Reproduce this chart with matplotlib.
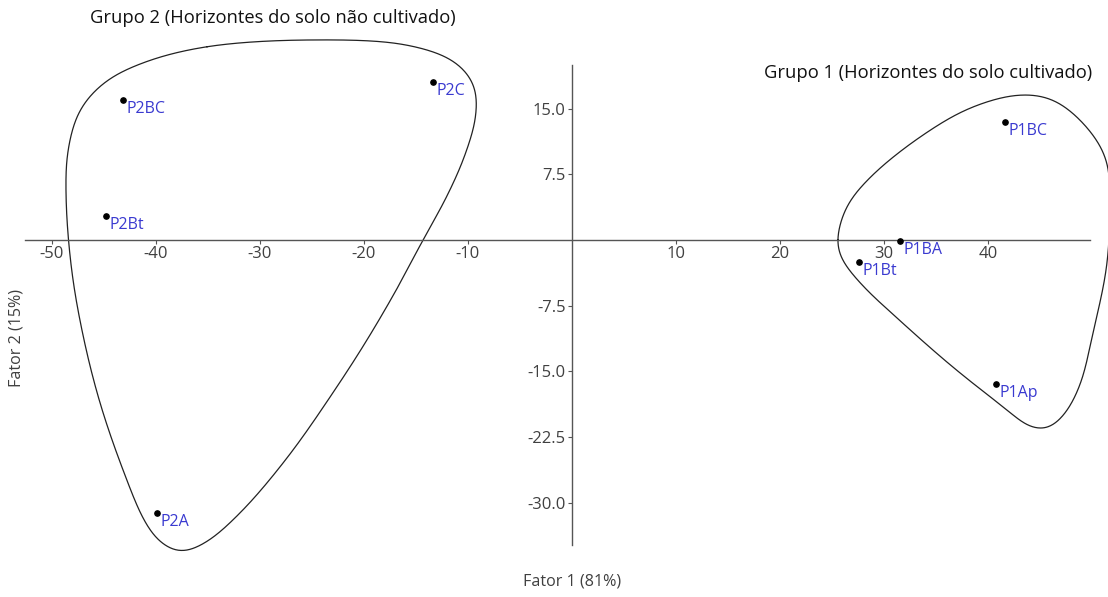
import numpy as np
import matplotlib
matplotlib.use("Agg")
import matplotlib.pyplot as plt

plt.rcParams['font.family'] = ['Open Sans', 'DejaVu Sans']

# ---- data ----
labels = ["P2BC", "P2C", "P2Bt", "P2A", "P1BC", "P1BA", "P1Bt", "P1Ap"]
fator1 = [-43.2, -13.4, -44.8, -39.9, 41.6, 31.5, 27.6, 40.8]
fator2 = [16.0, 18.1, 2.8, -31.2, 13.5, -0.1, -2.5, -16.4]

xticks = [-50, -40, -30, -20, -10, 10, 20, 30, 40]
yticks = [15.0, 7.5, -7.5, -15.0, -22.5, -30.0]

# group outlines (hand-drawn enclosures, in data units)
grupo2_x = [-35.13, -25.51, -15.89, -11.25, -9.42, -9.23, -10.29, -12.05, -14.33, -16.63,
            -19.52, -22.6, -27.31, -31.92, -35.29, -37.69, -39.62, -41.06, -43.17,
            -45.38, -46.99, -48.11, -48.65, -48.46, -47.31, -44.90, -41.06]
grupo2_y = [22.09, 22.86, 22.29, 20.34, 17.71, 14.29, 9.71, 4.95, 0.0, -5.14,
            -11.05, -16.77, -24.77, -31.2, -34.63, -35.66, -34.51, -32.23, -26.29,
            -18.63, -11.05, -3.43, 4.91, 10.29, 14.86, 18.06, 20.34]
grupo1_x = [25.5, 26.4, 28.7, 33.5, 38.3, 43.1, 46.3, 49.5, 51.4, 51.7,
            51.4, 50.1, 48.85, 47.31, 45.67, 44.04, 41.44, 36.6, 31.8, 27.7, 25.8]
grupo1_y = [0.0, 3.8, 7.2, 11.8, 15.1, 16.6, 16.0, 12.9, 9.1, 3.0,
            -3.1, -10.6, -16.57, -20.0, -21.6, -21.37, -19.05, -14.5, -9.5, -4.9, -1.9]

titulo2 = "Grupo 2 (Horizontes do solo não cultivado)"
titulo1 = "Grupo 1 (Horizontes do solo cultivado)"
xlabel = "Fator 1 (81%)"
ylabel = "Fator 2 (15%)"


def centripetal_closed(P, n=40, alpha=0.5):
    m = len(P)
    out = []
    for i in range(m):
        p0, p1, p2, p3 = P[(i - 1) % m], P[i], P[(i + 1) % m], P[(i + 2) % m]
        t0 = 0.0
        t1 = t0 + np.linalg.norm(p1 - p0) ** alpha
        t2 = t1 + np.linalg.norm(p2 - p1) ** alpha
        t3 = t2 + np.linalg.norm(p3 - p2) ** alpha
        t = np.linspace(t1, t2, n, endpoint=False)[:, None]
        A1 = (t1 - t) / (t1 - t0) * p0 + (t - t0) / (t1 - t0) * p1
        A2 = (t2 - t) / (t2 - t1) * p1 + (t - t1) / (t2 - t1) * p2
        A3 = (t3 - t) / (t3 - t2) * p2 + (t - t2) / (t3 - t2) * p3
        B1 = (t2 - t) / (t2 - t0) * A1 + (t - t0) / (t2 - t0) * A2
        B2 = (t3 - t) / (t3 - t1) * A2 + (t - t1) / (t3 - t1) * A3
        C = (t2 - t) / (t2 - t1) * B1 + (t - t1) / (t2 - t1) * B2
        out.append(C)
    return np.vstack(out)


def smooth_closed(C, step=1.0, sigma=9.0):
    # resample uniformly by arc length, then circular gaussian smoothing
    Cc = np.vstack([C, C[:1]])
    seg = np.linalg.norm(np.diff(Cc, axis=0), axis=1)
    s = np.concatenate([[0], np.cumsum(seg)])
    L = s[-1]
    su = np.arange(0, L, step)
    x = np.interp(su, s, Cc[:, 0])
    y = np.interp(su, s, Cc[:, 1])
    k = int(4 * sigma / step)
    ker = np.exp(-0.5 * (np.arange(-k, k + 1) * step / sigma) ** 2)
    ker /= ker.sum()
    xp = np.concatenate([x[-k:], x, x[:k]])
    yp = np.concatenate([y[-k:], y, y[:k]])
    xs = np.convolve(xp, ker, mode="valid")
    ys = np.convolve(yp, ker, mode="valid")
    R = np.column_stack([xs, ys])
    return np.vstack([R, R[:1]])


W, H = 1108, 597
fig = plt.figure(figsize=(W / 100, H / 100), dpi=100)
ax = fig.add_axes([0, 0, 1, 1])
ax.set_xlim(-55.0, 51.54)
ax.set_ylim(-40.8, 27.43)

axis_color = "#555555"
for s in ["top", "right"]:
    ax.spines[s].set_visible(False)
ax.spines["left"].set_position(("data", 0))
ax.spines["bottom"].set_position(("data", 0))
ax.spines["left"].set_bounds(-34.9, 20.0)
ax.spines["bottom"].set_bounds(-52.6, 49.8)
for s in ["left", "bottom"]:
    ax.spines[s].set_color(axis_color)
    ax.spines[s].set_linewidth(1.0)

ax.set_xticks(xticks)
ax.set_xticklabels([f"{v:d}" for v in xticks])
ax.set_yticks(yticks)
ax.set_yticklabels([f"{v:.1f}" for v in yticks])
ax.tick_params(axis="both", direction="out", length=3, width=0.8, color=axis_color,
               labelsize=12, labelcolor="#404040")
ax.tick_params(axis="x", pad=1)
ax.tick_params(axis="y", pad=1.5)

# outlines: smooth closed curves through the traced points (in display space)
for gx, gy in [(grupo2_x, grupo2_y), (grupo1_x, grupo1_y)]:
    Pd = ax.transData.transform(np.column_stack([gx, gy]))
    Cd = smooth_closed(centripetal_closed(Pd))
    C = ax.transData.inverted().transform(Cd)
    ax.plot(C[:, 0], C[:, 1], color="#222222", lw=0.9, clip_on=False)

# points
ax.plot(fator1, fator2, "o", color="black", ms=3.8, zorder=5, clip_on=False)
for lab, x, y in zip(labels, fator1, fator2):
    ax.annotate(lab, (x, y), xytext=(2.5, -6.5), textcoords="offset points",
                ha="left", va="center", color="#3a3ad0", fontsize=11.5)

fig.text(90 / W, 1 - 18 / H, titulo2, ha="left", va="center", fontsize=13.2, color="#111111")
fig.text(1092 / W, 1 - 73 / H, titulo1, ha="right", va="center", fontsize=13.2, color="#111111")
fig.text(572 / W, 1 - 582 / H, xlabel, ha="center", va="center", fontsize=11.6, color="#404040")
fig.text(17 / W, 1 - 338 / H, ylabel, ha="center", va="center", rotation=90,
         fontsize=11.6, color="#404040")

fig.savefig("out.png", dpi=100)
